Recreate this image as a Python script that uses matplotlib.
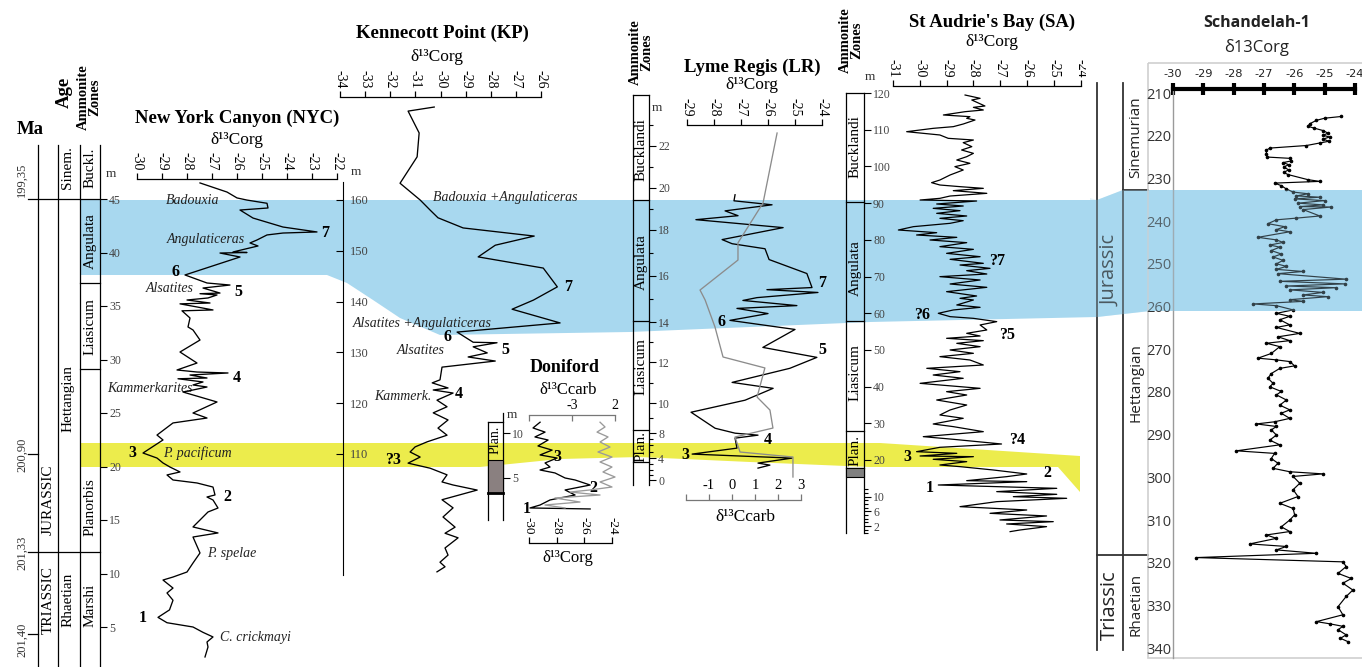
import numpy as np
import matplotlib
matplotlib.use("Agg")
import matplotlib.pyplot as plt
from matplotlib.patches import Polygon, Rectangle

W, H = 1362, 667
plt.rcParams['font.family'] = ['Liberation Serif', 'DejaVu Serif']
plt.rcParams['axes.unicode_minus'] = False

BLUE = '#a8d8ef'
YELLOW = '#ecec4c'
SANS = ['Open Sans', 'DejaVu Sans']

# ---------------- data ----------------
# New York Canyon, d13Corg vs m
nyc_d13c = [-27.48, -26.40, -26.00, -25.60, -24.80, -24.76, -25.88, -25.36, -24.16, -22.80,
            -24.16, -24.80, -25.20, -25.48, -25.16, -26.16, -25.60, -26.68, -25.88, -28.08,
            -27.20, -26.28, -27.36, -26.68, -27.48, -26.80, -27.16, -28.00, -27.08, -28.28,
            -27.60, -26.96, -28.20, -27.88, -27.96, -27.76, -27.48, -28.28, -27.60, -28.40,
            -27.60, -26.36, -27.88, -27.20, -28.36, -27.36, -27.76, -27.20, -27.76, -28.16,
            -26.80, -27.76, -27.20, -28.56, -29.20, -28.96, -29.76, -29.20, -28.96, -28.68,
            -28.28, -28.80, -28.56, -27.60, -26.96, -26.88, -27.20, -26.96, -26.76, -27.16,
            -27.48, -27.76, -26.76, -27.76, -27.48, -27.76, -28.00, -28.56, -28.96, -28.56,
            -28.80, -28.56, -28.70, -29.16, -28.80, -27.76, -27.36, -26.96, -27.20, -27.16,
            -27.28]
nyc_depth = [46.50, 45.65, 45.10, 44.90, 44.60, 44.16, 43.97, 43.22, 42.38, 41.92,
             41.82, 41.64, 41.17, 40.89, 40.61, 40.05, 40.00, 39.95, 39.58, 37.90,
             37.15, 36.96, 36.68, 36.21, 36.15, 36.03, 35.75, 35.56, 35.28, 35.20,
             34.91, 34.63, 34.55, 33.88, 33.04, 32.76, 31.82, 30.70, 29.67, 29.02,
             28.83, 28.74, 28.55, 28.27, 28.20, 27.90, 27.62, 27.43, 27.15, 26.96,
             26.03, 25.00, 24.53, 24.07, 22.94, 22.48, 21.26, 20.79, 20.33, 19.95,
             19.49, 19.21, 18.74, 18.46, 18.08, 17.34, 17.15, 16.87, 16.12, 15.75,
             15.00, 14.35, 13.79, 13.41, 11.92, 10.98, 10.14, 9.67, 9.39, 8.64,
             8.18, 7.50, 6.60, 5.90, 5.40, 5.00, 4.50, 4.07, 3.60, 3.13,
             2.20]

# Kennecott Point
kp_d13c = [-30.25, -31.29, -30.85, -30.93, -31.61, -30.81, -30.41, -30.10, -29.10, -26.27,
           -27.82, -28.50, -25.91, -25.35, -26.30, -27.15, -25.24, -29.34, -28.70, -27.75,
           -28.70, -28.14, -28.90, -27.82, -29.94, -30.02, -30.33, -29.70, -30.29, -29.50,
           -30.14, -29.74, -30.29, -29.70, -30.10, -29.74, -30.53, -31.01, -31.21, -30.81,
           -31.29, -30.41, -29.74, -29.94, -29.50, -28.54, -29.94, -29.50, -29.90, -29.42,
           -29.82, -29.30, -29.82, -29.70, -30.02, -29.82, -30.14]
kp_depth = [178.3, 177.5, 173.2, 168.5, 163.3, 160.0, 158.0, 156.5, 154.5, 152.9,
            151.1, 148.8, 146.6, 142.9, 140.3, 138.5, 135.8, 134.0, 132.0, 131.9,
            131.1, 129.9, 129.1, 128.3, 127.1, 124.6, 124.0, 123.0, 122.6, 122.0,
            120.6, 119.3, 118.1, 116.7, 115.1, 113.7, 112.4, 111.4, 110.4, 109.4,
            108.2, 107.2, 105.9, 104.5, 103.9, 102.9, 101.0, 99.4, 97.6, 95.6,
            94.4, 93.5, 91.5, 90.1, 88.7, 87.8, 86.8]

# Doniford
don_corg = [-29.20, -29.71, -28.84, -29.57, -28.62, -29.35, -28.33, -29.20, -27.97, -28.84,
            -28.48, -29.20, -28.12, -27.39, -26.67, -25.58, -27.39, -26.67, -28.48, -29.20,
            -29.93, -25.58]
don_corg_depth = [11.2, 10.56, 10.1, 9.56, 9.22, 8.56, 8.1, 7.56, 7.22, 6.67,
                  6.22, 5.89, 5.56, 5.0, 4.78, 4.22, 3.67, 3.11, 2.56, 2.0,
                  1.67, 1.56]
don_ccarb = [0.26, 0.84, -0.09, 1.19, 0.26, 1.42, 0.02, 1.65, 0.26, 1.65,
             0.60, 2.00, 0.26, 1.65, -0.91, -3.23, 0.26, -4.98, -2.07, -6.14,
             -3.81]
don_ccarb_depth = [11.2, 10.67, 10.1, 9.56, 9.0, 8.44, 7.89, 7.33, 6.78, 6.22,
                   5.67, 5.11, 4.56, 4.0, 3.67, 3.44, 3.11, 2.78, 2.33, 2.0,
                   1.67]

# Lyme Regis
lr_corg = [-27.22, -27.26, -25.85, -27.59, -27.11, -28.67, -25.44, -27.70, -27.33, -26.11,
           -25.96, -24.56, -24.37, -26.04, -24.15, -26.41, -26.93, -24.93, -27.15, -26.00,
           -27.41, -25.00, -26.19, -24.19, -25.19, -27.33, -25.81, -26.85, -28.85, -27.96,
           -27.22, -26.37, -27.22, -27.15, -28.81, -25.11, -26.37, -25.93, -26.37]
lr_corg_depth = [19.67, 19.38, 19.19, 18.90, 18.67, 18.48, 18.10, 17.57, 17.39, 17.17,
                 16.70, 16.09, 15.49, 15.40, 15.28, 15.06, 14.94, 14.72, 14.60, 14.38,
                 14.09, 13.65, 12.75, 12.25, 11.71, 11.02, 10.73, 10.15, 9.40, 8.33,
                 8.00, 7.67, 7.17, 5.54, 4.62, 4.00, 3.17, 2.83, 2.33]
lr_ccarb = [1.96, 1.35, 0.26, 0.26, -1.39, -1.17, -0.74, -0.39, 1.43, 1.09,
            1.65, 1.78, 0.13, 0.35, 2.65, 2.65]
lr_ccarb_depth = [22.57, 19.24, 17.4, 16.65, 15.36, 14.94, 13.75, 12.25, 11.71, 10.29,
                  9.53, 8.33, 7.33, 4.92, 4.15, 0.6]

# St Audrie's Bay
sa_d13c = [-28.31, -27.75, -28.06, -27.57, -28.00, -27.63, -28.31, -29.12, -28.13, -28.25,
           -27.94, -28.38, -28.75, -29.50, -30.49, -29.87, -29.25, -28.94, -28.38, -28.00,
           -28.38, -28.06, -28.44, -28.00, -28.25, -28.62, -28.13, -28.69, -28.38, -28.87,
           -29.25, -29.56, -29.25, -28.50, -27.63, -28.75, -27.50, -28.87, -29.25, -29.99,
           -27.88, -29.37, -28.38, -29.50, -28.50, -29.37, -28.25, -29.25, -28.38, -28.87,
           -30.24, -30.80, -29.37, -30.12, -28.62, -29.62, -28.25, -29.25, -28.00, -29.00,
           -27.75, -28.87, -27.63, -28.50, -27.38, -28.25, -27.50, -29.25, -27.75, -28.87,
           -27.50, -29.00, -27.88, -28.50,
           -28.00, -28.62, -27.75, -28.75, -29.31, -28.87, -28.00, -27.13, -27.75, -27.50,
           -28.25, -27.75, -29.00, -27.63, -28.62, -27.75, -28.87, -28.00, -29.25, -28.13,
           -27.63, -29.74, -28.50, -29.50, -28.38, -29.99, -27.75, -29.00, -28.25, -29.37,
           -28.25, -28.87, -29.25, -28.38, -29.50, -28.75, -27.63, -29.87, -28.75, -26.95,
           -29.25, -30.12, -28.62, -29.99, -28.00, -29.50, -28.25, -29.25, -28.50, -27.26,
           -26.01, -26.76, -28.25, -26.01, -29.31, -24.89, -27.13, -24.89, -26.51, -24.52,
           -27.13, -28.50, -26.01, -27.38, -25.27, -27.01, -25.02, -26.76, -25.27, -26.26,
           -26.63]
sa_depth = [119.45, 118.55, 118.09, 116.46, 116.09, 115.37, 114.91, 114.01, 113.55, 113.10,
            112.64, 111.55, 110.83, 110.37, 109.46, 109.01, 108.56, 107.65, 107.38, 107.19,
            106.47, 105.38, 104.47, 103.56, 102.65, 101.74, 100.84, 99.93, 99.02, 97.66,
            96.29, 95.57, 94.93, 94.48, 94.02, 93.39, 92.66, 91.93, 91.30, 90.84,
            90.57, 89.76, 89.21, 88.57, 87.94, 87.21, 86.49, 85.85, 85.21, 84.49,
            83.58, 82.67, 81.94, 81.31, 80.67, 79.95, 79.22, 78.13, 77.40, 76.31,
            75.40, 74.68, 73.59, 73.13, 72.22, 71.59, 70.68, 69.96, 69.05, 67.96,
            67.05, 65.87, 64.69, 64.05,
            63.60, 62.24, 61.60, 60.88, 59.97, 59.06, 58.60, 57.70, 56.79, 55.43,
            54.52, 53.79, 53.16, 52.52, 51.79, 50.88, 49.98, 49.07, 48.16, 47.25,
            45.89, 44.98, 44.07, 43.16, 42.26, 40.89, 39.53, 38.62, 37.71, 36.35,
            34.99, 33.63, 32.27, 31.36, 29.81, 29.09, 27.72, 26.36, 25.64, 24.36,
            23.46, 22.27, 21.82, 21.09, 20.91, 20.19, 19.55, 18.64, 18.19, 17.28,
            16.19, 15.46, 14.37, 14.10, 13.19, 12.28, 11.38, 10.65, 10.01, 9.56,
            8.65, 7.29, 6.38, 5.47, 4.75, 3.66, 3.20, 2.57, 1.84, 0.93,
            0.48]

# Schandelah-1
sch_d13c = [-24.45, -25.00, -25.27, -25.49, -25.55, -25.36, -25.05, -24.89, -25.05, -24.84,
            -25.05, -24.86, -25.16, -25.60, -26.81, -26.92, -26.92, -26.90, -26.15, -26.10,
            -26.37, -26.18, -26.35, -26.19, -26.35, -26.21, -25.55, -25.16, -26.65, -26.43,
            -26.26, -26.04, -25.55, -25.93, -25.16, -25.99, -25.00, -25.88, -25.05, -25.82,
            -24.78, -25.71, -25.16, -25.93, -26.59, -26.87, -26.32, -26.59, -26.15, -27.20,
            -26.59, -26.37, -26.81, -26.48, -26.76, -26.43, -26.70, -26.37, -26.59, -26.26,
            -26.59, -25.71, -26.54, -24.29, -26.48, -24.34, -26.26, -24.62, -26.15, -25.05,
            -25.71, -24.89, -26.15, -25.71, -27.36, -26.59, -26.04, -26.59, -26.15, -26.48,
            -26.15, -26.59, -25.82, -26.54, -26.15, -26.92, -26.48, -26.76, -27.20, -26.59,
            -26.15, -25.99, -26.48, -26.76, -26.87, -26.70, -26.81, -26.43, -26.59, -26.26,
            -26.48, -26.15, -26.43, -26.15, -26.65, -27.25, -26.59, -26.76, -26.59, -26.81,
            -26.48, -27.91, -26.65, -26.76, -26.54, -26.70, -26.15, -25.05, -26.04, -25.82,
            -26.04, -25.88, -26.48, -26.04, -25.99, -26.15, -26.43, -26.15, -26.92, -26.59,
            -27.47, -26.26, -26.59, -25.27, -29.23, -24.40, -24.29, -24.56, -24.12, -24.40,
            -24.07, -24.29, -24.56, -24.40, -25.27, -24.84, -24.40, -24.56, -24.29, -24.48,
            -24.23]
sch_depth = [215.5, 215.9, 216.4, 217.2, 217.8, 218.2, 218.8, 219.4, 219.9, 220.3,
             220.8, 221.3, 221.7, 222.3, 222.9, 223.4, 224.2, 225.0, 225.3, 225.9,
             226.3, 226.8, 227.3, 228.0, 228.6, 229.1, 230.3, 230.7, 231.1, 231.7,
             232.5, 233.2, 233.6, 234.1, 234.4, 234.8, 235.2, 235.8, 236.2, 236.6,
             236.7, 237.3, 238.8, 239.3, 239.7, 240.6, 241.3, 242.0, 242.5, 243.8,
             244.4, 245.0, 245.6, 246.1, 246.9, 247.7, 248.4, 249.2, 250.0, 250.6,
             251.3, 251.8, 252.3, 253.6, 254.1, 254.7, 255.2, 255.6, 256.1, 256.7,
             257.3, 257.7, 258.4, 258.8, 259.4, 259.8, 260.8, 261.6, 262.3, 263.1,
             264.3, 264.9, 266.3, 267.1, 268.0, 268.6, 269.4, 271.0, 272.1, 272.5,
             272.9, 273.9, 274.5, 275.7, 276.8, 278.0, 278.8, 279.9, 280.7, 281.9,
             283.1, 284.2, 285.0, 286.2, 287.0, 287.5, 288.1, 288.9, 290.1, 291.3,
             292.4, 293.8, 294.4, 295.6, 296.7, 297.9, 298.7, 299.2, 299.8, 301.4,
             302.9, 304.5, 306.1, 307.3, 308.8, 310.0, 311.6, 312.7, 313.5, 314.3,
             315.6, 316.2, 317.0, 317.8, 318.8, 319.8, 320.9, 322.5, 323.7, 324.8,
             326.4, 327.9, 330.3, 332.2, 333.8, 334.3, 334.9, 335.7, 336.9, 337.7,
             338.5]

nyc_ticks = list(range(-30, -21))
kp_ticks = list(range(-34, -25))
lr_ticks = list(range(-29, -23))
sa_ticks = list(range(-31, -23))
sch_ticks = list(range(-30, -23))

# ---------------- figure ----------------
fig = plt.figure(figsize=(W / 100, H / 100), dpi=100)
ax0 = fig.add_axes([0, 0, 1, 1])
ax0.set_xlim(0, W)
ax0.set_ylim(H, 0)
ax0.axis('off')

blue = [(80, 200), (1097, 200), (1123, 190), (1362, 190), (1362, 311), (1150, 311),
        (1097, 317), (870, 322), (630, 332), (440, 335), (400, 318), (373, 300),
        (347, 283), (327, 275), (80, 275)]
yellow = [(80, 443), (880, 443), (1080, 456), (1080, 492), (1058, 467), (870, 467),
          (750, 462), (640, 457), (560, 459), (480, 467), (80, 467)]
ax0.add_patch(Polygon(blue, closed=True, fc=BLUE, ec='none', zorder=0))
ax0.add_patch(Polygon(yellow, closed=True, fc=YELLOW, ec='none', zorder=0))


def vline(x, y0, y1, **kw):
    ax0.plot([x, x], [y0, y1], color=kw.get('color', 'k'), lw=kw.get('lw', 0.9), zorder=2)


def hline(y, x0, x1, **kw):
    ax0.plot([x0, x1], [y, y], color=kw.get('color', 'k'), lw=kw.get('lw', 0.9), zorder=2)


def txt(x, y, s, size=11, rot=0, **kw):
    ax0.text(x, y, s, fontsize=size, rotation=rot, ha='center', va='center', zorder=3, **kw)


# NYC stratigraphic columns
for x in [38, 58, 80, 100]:
    vline(x, 145, 667)
hline(199, 28, 100)
hline(552, 28, 100)
hline(283, 80, 100)
hline(369, 80, 100)
hline(454, 28, 38)
hline(634, 28, 38)
txt(30, 130, 'Ma', 13.5, weight='bold')
txt(64, 92, 'Age', 13.5, 90, weight='bold')
txt(89, 97, 'Ammonite\nZones', 10.5, 90, weight='bold', linespacing=0.85)
for y, s in [(180, '199,35'), (455, '200,90'), (553, '201,33'), (640, '201,40')]:
    txt(22, y, s, 9, 90, color='#333')
for x, y, s in [(68, 168, 'Sinem.'), (90, 168, 'Buckl.'), (90, 241, 'Angulata'),
                (90, 327, 'Liasicum'), (68, 398, 'Hettangian'), (48, 500, 'JURASSIC'),
                (90, 507, 'Planorbis'), (48, 600, 'TRIASSIC'), (68, 600, 'Rhaetian'),
                (90, 605, 'Marshi')]:
    txt(x, y, s, 11, 90)
txt(237, 118, 'New York Canyon (NYC)', 13.5, weight='bold')
txt(237, 140, 'δ¹³Corg', 12.5)
txt(111, 174, 'm', 9.5, color='#333')

# KP text
txt(442, 33, 'Kennecott Point (KP)', 13.5, weight='bold')
txt(437, 57, 'δ¹³Corg', 12.5)
txt(356, 172, 'm', 9.5, color='#333')

# Doniford column
vline(488, 422, 520)
vline(503, 413, 520)
hline(422, 488, 503)
ax0.add_patch(Rectangle((488, 460), 15, 33, fc='#8a8080', ec='k', lw=0.8, zorder=2))
hline(493, 488, 503, lw=2)
txt(495, 440, 'Plan.', 10, 90)
txt(565, 368, 'Doniford', 13, weight='bold')
txt(568, 390, 'δ¹³Ccarb', 12)
txt(568, 558, 'δ¹³Corg', 12)
txt(512, 415, 'm', 9.5, color='#333')

# LR column
vline(633, 95, 485)
vline(649, 95, 485)
for y in [95, 200, 321, 430, 462]:
    hline(y, 633, 649)
txt(641, 52, 'Ammonite\nZones', 10.5, 90, weight='bold', linespacing=0.85)
for y, s in [(150, 'Bucklandi'), (262, 'Angulata'), (367, 'Liasicum'), (447, 'Plan.')]:
    txt(641, y, s, 11, 90)
txt(752, 67, 'Lyme Regis (LR)', 13.5, weight='bold')
txt(752, 85, 'δ¹³Corg', 12.5)
txt(657, 108, 'm', 9.5, color='#333')
txt(745, 517, 'δ¹³Ccarb', 12.5)

# SA column
vline(846, 93, 533)
vline(864, 93, 533)
vline(1097, 83, 650, lw=1.3, color='#333')
for y in [93, 202, 321, 431, 468]:
    hline(y, 846, 864)
ax0.add_patch(Rectangle((846, 468), 18, 9, fc='#808080', ec='k', lw=0.8, zorder=2))
txt(851, 40, 'Ammonite\nZones', 10.5, 90, weight='bold', linespacing=0.85)
for y, s in [(147, 'Bucklandi'), (268, 'Angulata'), (373, 'Liasicum'), (450, 'Plan.')]:
    txt(855, y, s, 11, 90)
txt(992, 22, "St Audrie's Bay (SA)", 13.5, weight='bold')
txt(992, 42, 'δ¹³Corg', 12.5)
txt(870, 77, 'm', 9.5, color='#333')

# Schandelah column + frame
vline(1123, 83, 650, lw=1.3, color='#333')
hline(190, 1123, 1148, lw=1.3, color='#333')
hline(555, 1097, 1148, lw=1.3, color='#333')
ax0.add_patch(Rectangle((1148, 63), 230, 595, fc='none', ec='#cfcfcf', lw=1.2, zorder=2))
txt(1257, 23, 'Schandelah-1', 11.5, family=SANS, weight='bold', color='#222')
txt(1257, 47, 'δ13Corg', 12, family=SANS, color='#222')
txt(1110, 270, 'Jurassic', 14.5, 90, family=SANS, color='#222')
txt(1110, 605, 'Triassic', 14.5, 90, family=SANS, color='#222')
txt(1136, 137, 'Sinemurian', 11, 90, family=SANS, color='#222')
txt(1136, 383, 'Hettangian', 11, 90, family=SANS, color='#222')
txt(1136, 604, 'Rhaetian', 11, 90, family=SANS, color='#222')

# annotations
for x, y, s in [(193, 200, 'Badouxia'), (206, 240, 'Angulaticeras'), (170, 288, 'Alsatites'),
                (150, 388, 'Kammerkarites'), (197, 453, 'P. pacificum'), (232, 553, 'P. spelae'),
                (255, 637, 'C. crickmayi'), (505, 198, 'Badouxia +Angulaticeras'),
                (422, 323, 'Alsatites +Angulaticeras'), (421, 350, 'Alsatites'),
                (403, 397, 'Kammerk.')]:
    txt(x, y, s, 10, style='italic', color='#222')
for x, y, s in [(325, 233, '7'), (176, 272, '6'), (238, 292, '5'), (237, 378, '4'),
                (132, 453, '3'), (227, 497, '2'), (143, 618, '1'),
                (568, 287, '7'), (447, 337, '6'), (505, 350, '5'), (459, 394, '4'),
                (393, 460, '?3'), (557, 457, '3'), (593, 488, '2'), (527, 509, '1'),
                (822, 283, '7'), (722, 322, '6'), (822, 350, '5'), (768, 440, '4'),
                (685, 455, '3'), (997, 261, '?7'), (922, 315, '?6'), (1007, 335, '?5'),
                (1017, 440, '?4'), (907, 457, '3'), (1047, 473, '2'), (930, 488, '1')]:
    txt(x, y, s, 11.5, weight='bold')


# ---------------- data panels ----------------
def panel(left, right, top, bottom, xlim, ylim):
    ax = fig.add_axes([left / W, 1 - bottom / H, (right - left) / W, (bottom - top) / H])
    ax.set_xlim(xlim)
    ax.set_ylim(ylim)
    ax.patch.set_visible(False)
    for sp in ax.spines.values():
        sp.set_visible(False)
    ax.set_xticks([])
    ax.set_yticks([])
    return ax


def top_axis(ax, ticks, labels=None, rot=-90, size=10, direction='out', color='k', where=None):
    sp = ax.spines['top']
    sp.set_visible(True)
    sp.set_color(color)
    sp.set_linewidth(0.9)
    if where is not None:
        sp.set_position(('axes', where))
    ax.xaxis.set_ticks_position('top')
    ax.set_xticks(ticks)
    if labels is not None:
        ax.set_xticklabels(labels)
    ax.tick_params(axis='x', direction=direction, length=4, width=0.9, color=color,
                   labelrotation=rot, labelsize=size, pad=2)


def depth_axis(ax, xpos, ticks, direction='out', size=8.5, pad=1.5, minor=None):
    sp = ax.spines['right']
    sp.set_position(('data', xpos))
    ax.yaxis.set_ticks_position('right')
    ax.set_yticks(ticks)
    if minor is not None:
        ax.set_yticks(minor, minor=True)
        ax.tick_params(axis='y', which='minor', direction=direction, length=3, width=0.8)
    ax.tick_params(axis='y', which='major', direction=direction, length=5, width=0.8,
                   labelsize=size, labelcolor='#444', pad=pad)


LW = 0.95

# NYC: -30 at 137px, -22 at 337px ; 45 m at 199px, 10.7 px/m
ax = panel(137, 337, 179, 660, (-30, -22), (45 - 461 / 10.7, 45 + 20 / 10.7))
top_axis(ax, nyc_ticks)
depth_axis(ax, -30 + (100 - 137) / 25, list(range(5, 46, 5)))
ax.plot(nyc_d13c, nyc_depth, color='k', lw=LW, clip_on=False)

# KP: -34 at 340px, -26 at 541px ; 160 m at 200px, 5.08 px/m
ax = panel(340, 541, 97, 580, (-34, -26), (160 - 380 / 5.08, 160 + 103 / 5.08))
top_axis(ax, kp_ticks)
depth_axis(ax, -34 + 3 / 25.1, list(range(110, 161, 10)), direction='in', size=9, pad=5)
ax.spines['right'].set_visible(True)
ax.spines['right'].set_bounds(160 - 375 / 5.08, 160 + 18 / 5.08)
ax.plot(kp_d13c, kp_depth, color='k', lw=LW, clip_on=False)

# Doniford: Corg -30 at 529px, -24 at 612px ; 10 m at 433px, 9 px/m
don_lim = (10 - 110 / 9, 10 + 18 / 9)
ax = panel(529, 612, 415, 543, (-30, -24), don_lim)
top_axis(ax, [-30, -28, -26, -24], size=9.5, where=0)
depth_axis(ax, -30 + (503 - 529) / 13.83, [5, 10], size=8.5)
ax.plot(don_corg, don_corg_depth, color='k', lw=LW, clip_on=False)
ax = panel(529, 615, 415, 543, (-8, 2), don_lim)
top_axis(ax, [-8, -3, 2], ['', '-3', '2'], rot=0, size=10, direction='in', color='#777')
ax.tick_params(axis='x', labelcolor='k')
ax.plot(don_ccarb, don_ccarb_depth, color='#9a9a9a', lw=LW, clip_on=False)

# Lyme Regis: piecewise depth scale of the section
lr_kd = np.array([-4, 0, 2, 4, 6, 8, 10, 12, 14, 16, 18, 20, 22, 26])
lr_ky = np.array([500, 480, 470, 458, 445, 433, 403, 362, 322, 275, 229, 187, 145, 61])


def lr_fwd(d):
    return np.interp(d, lr_kd, -lr_ky)


def lr_inv(t):
    return np.interp(t, -lr_ky, lr_kd)


def lr_panel(left, right, xlim):
    a = panel(left, right, 125, 500, xlim, (0, 1))
    a.set_yscale('function', functions=(lr_fwd, lr_inv))
    a.set_ylim(-4, 22 + 20 / 21)
    a.set_yticks([])
    return a


ax = lr_panel(687, 822, (-29, -24))
top_axis(ax, lr_ticks)
depth_axis(ax, -29 + (649 - 687) / 27, [0, 4, 8, 10, 12, 14, 16, 18, 20, 22],
           minor=[1, 2, 3, 5, 6, 7, 9, 11, 13, 15, 17, 19, 21, 23])
ax.plot(lr_corg, lr_corg_depth, color='k', lw=LW, clip_on=False)
ax = lr_panel(686, 801, (-2, 3))
top_axis(ax, [-2, -1, 0, 1, 2, 3], ['', '-1', '0', '1', '2', '3'], rot=0, size=10.5,
         color='#777', where=0)
ax.tick_params(axis='x', labelcolor='k')
ax.plot(lr_ccarb, lr_ccarb_depth, color='#8c8c8c', lw=LW, clip_on=False)

# St Audrie's Bay: -31 at 893px, 26.8 px/unit ; 120 m at 93px, 3.67 px/m
ax = panel(893, 893 + 7 * 26.8, 86, 535, (-31, -24), (120 - 442 / 3.67, 120 + 7 / 3.67))
top_axis(ax, sa_ticks)
depth_axis(ax, -31 + (864 - 893) / 26.8, [2, 6, 10] + list(range(20, 121, 10)),
           minor=list(range(0, 13)))
ax.plot(sa_d13c, sa_depth, color='k', lw=0.9, clip_on=False)

# Schandelah-1: -30 at 1173px, -24 at 1355px ; 210 m at 93px, 4.27 px/m
ax = panel(1173, 1355, 89, 658, (-30, -24), (210 + 565 / 4.27, 210 - 4 / 4.27))
sp = ax.spines['top']
sp.set_visible(True)
sp.set_linewidth(3)
ax.xaxis.set_ticks_position('top')
ax.set_xticks(sch_ticks)
ax.tick_params(axis='x', direction='inout', length=8, width=3, labelsize=8.2, pad=3,
               labelfontfamily='Liberation Sans Narrow', labelcolor='#222')
sp = ax.spines['left']
sp.set_visible(True)
sp.set_color('#9a9a9a')
sp.set_linewidth(1)
ax.yaxis.set_ticks_position('left')
ax.set_yticks(list(range(210, 341, 10)))
ax.tick_params(axis='y', length=0, pad=1, labelsize=10.5, labelcolor='#333',
               labelfontfamily='Open Sans')
ax.plot(sch_d13c, sch_depth, color='k', lw=0.85, marker='o', ms=1.6, clip_on=False)

# translucent band over the Schandelah record + trimmed SA label edge
axt = fig.add_axes([0, 0, 1, 1])
axt.set_xlim(0, W)
axt.set_ylim(H, 0)
axt.axis('off')
axt.add_patch(Polygon([(1090, 198), (1097, 200), (1123, 190), (1362, 190), (1362, 311),
                       (1150, 311), (1097, 317), (1090, 317)], closed=True,
                      fc=BLUE, ec='none', alpha=0.3))
axt.add_patch(Rectangle((1086, 40), 10, 42, fc='white', ec='none'))

fig.savefig('out.png', dpi=100)
